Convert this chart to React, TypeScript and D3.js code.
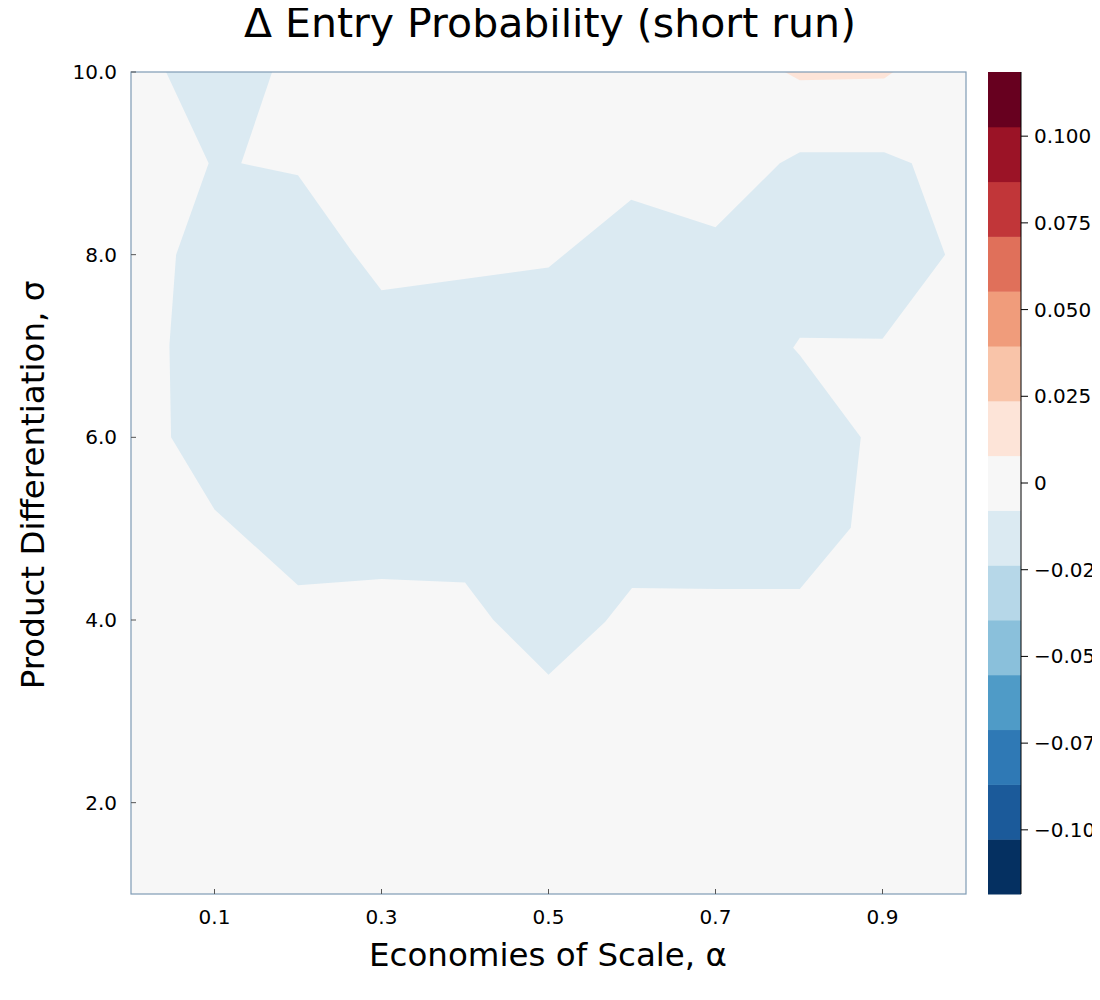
import React from 'react';
import * as d3 from 'd3';

// contour region where Δ is slightly negative (alpha, sigma)
const negRegion: [number, number][] = [
  [0.042, 10], [0.169, 10], [0.132, 9.0], [0.2, 8.87], [0.265, 8.03], [0.3, 7.61],
  [0.5, 7.86], [0.599, 8.6], [0.7, 8.3], [0.777, 9.0], [0.801, 9.12], [0.902, 9.12],
  [0.935, 9.0], [0.975, 8.0], [0.9, 7.08], [0.801, 7.09], [0.793, 6.98], [0.801, 6.9],
  [0.874, 6.0], [0.862, 5.01], [0.801, 4.34], [0.703, 4.34], [0.6, 4.35], [0.568, 3.98],
  [0.5, 3.4], [0.434, 4.0], [0.4, 4.41], [0.3, 4.45], [0.2, 4.38], [0.1, 5.21],
  [0.048, 6.0], [0.046, 7.01], [0.054, 8.0], [0.093, 9.0],
];
// small slightly-positive region at the top
const posRegion: [number, number][] = [
  [0.783, 10], [0.913, 10], [0.902, 9.93], [0.801, 9.91],
];
const xTicks = [0.1, 0.3, 0.5, 0.7, 0.9];
const yTicks = [2, 4, 6, 8, 10];
const cbTicks = [0.1, 0.075, 0.05, 0.025, 0, -0.025, -0.05, -0.075, -0.1];
// RdBu levels, lowest to highest
const colors = [
  '#053061', '#1b5a9a', '#2f79b5', '#4f9bc7', '#8ac0db', '#b6d7e8', '#dbeaf2',
  '#f7f7f7',
  '#fde4d8', '#f9c4a9', '#f09c7b', '#e0705a', '#c13639', '#9b1326', '#67001f',
];
const cbMax = 0.1185;

const W = 1100, H = 1000;
const m = { left: 131, right: 966, top: 72, bottom: 894 };
const font = 'DejaVu Sans, sans-serif';

export default function App() {
  const x = d3.scaleLinear().domain([0, 1]).range([m.left, m.right]);
  const y = d3.scaleLinear().domain([1, 10]).range([m.bottom, m.top]);
  const cy = d3.scaleLinear().domain([-cbMax, cbMax]).range([m.bottom, m.top]);
  const step = (2 * cbMax) / colors.length;
  const line = d3.line<[number, number]>().x(d => x(d[0])).y(d => y(d[1]));
  const fmt = (v: number) => (v === 0 ? '0' : (v < 0 ? '\u2212' : '') + Math.abs(v).toFixed(3));

  return (
    <svg width={W} height={H} style={{ display: 'block', margin: -8 }} fontFamily={font}>
      <rect width={W} height={H} fill="#fff" />
      <rect x={m.left} y={m.top} width={m.right - m.left} height={m.bottom - m.top} fill={colors[7]} />
      <path d={line(negRegion) + 'Z'} fill={colors[6]} />
      <path d={line(posRegion) + 'Z'} fill={colors[8]} />
      <rect x={m.left} y={m.top} width={m.right - m.left} height={m.bottom - m.top} fill="none" stroke="#7f9bb5" strokeWidth={1.2} />
      {xTicks.map(t => (
        <g key={t}>
          <line x1={x(t)} x2={x(t)} y1={m.bottom} y2={m.bottom - 5} stroke="#555" />
          <text x={x(t)} y={m.bottom + 30} textAnchor="middle" fontSize={20}>{t.toFixed(1)}</text>
        </g>
      ))}
      {yTicks.map(t => (
        <g key={t}>
          <line x1={m.left} x2={m.left + 5} y1={y(t)} y2={y(t)} stroke="#555" />
          <text x={m.left - 14} y={y(t) + 7} textAnchor="end" fontSize={20}>{t.toFixed(1)}</text>
        </g>
      ))}
      <text x={550} y={37} textAnchor="middle" fontSize={41}>Δ Entry Probability (short run)</text>
      <text x={548} y={966} textAnchor="middle" fontSize={32.5}>Economies of Scale, α</text>
      <text transform={`translate(44,485) rotate(-90)`} textAnchor="middle" fontSize={32.5}>Product Differentiation, σ</text>
      {colors.map((c, i) => (
        <rect key={i} x={988} width={33} y={cy(-cbMax + (i + 1) * step)} height={cy(-cbMax) - cy(-cbMax + step) + 0.5} fill={c} />
      ))}
      <line x1={1021} x2={1021} y1={m.top} y2={m.bottom} stroke="#000" />
      {cbTicks.map(t => (
        <g key={t}>
          <line x1={1021} x2={1028} y1={cy(t)} y2={cy(t)} stroke="#000" />
          <text x={1034} y={cy(t) + 7} fontSize={20}>{fmt(t)}</text>
        </g>
      ))}
    </svg>
  );
}
